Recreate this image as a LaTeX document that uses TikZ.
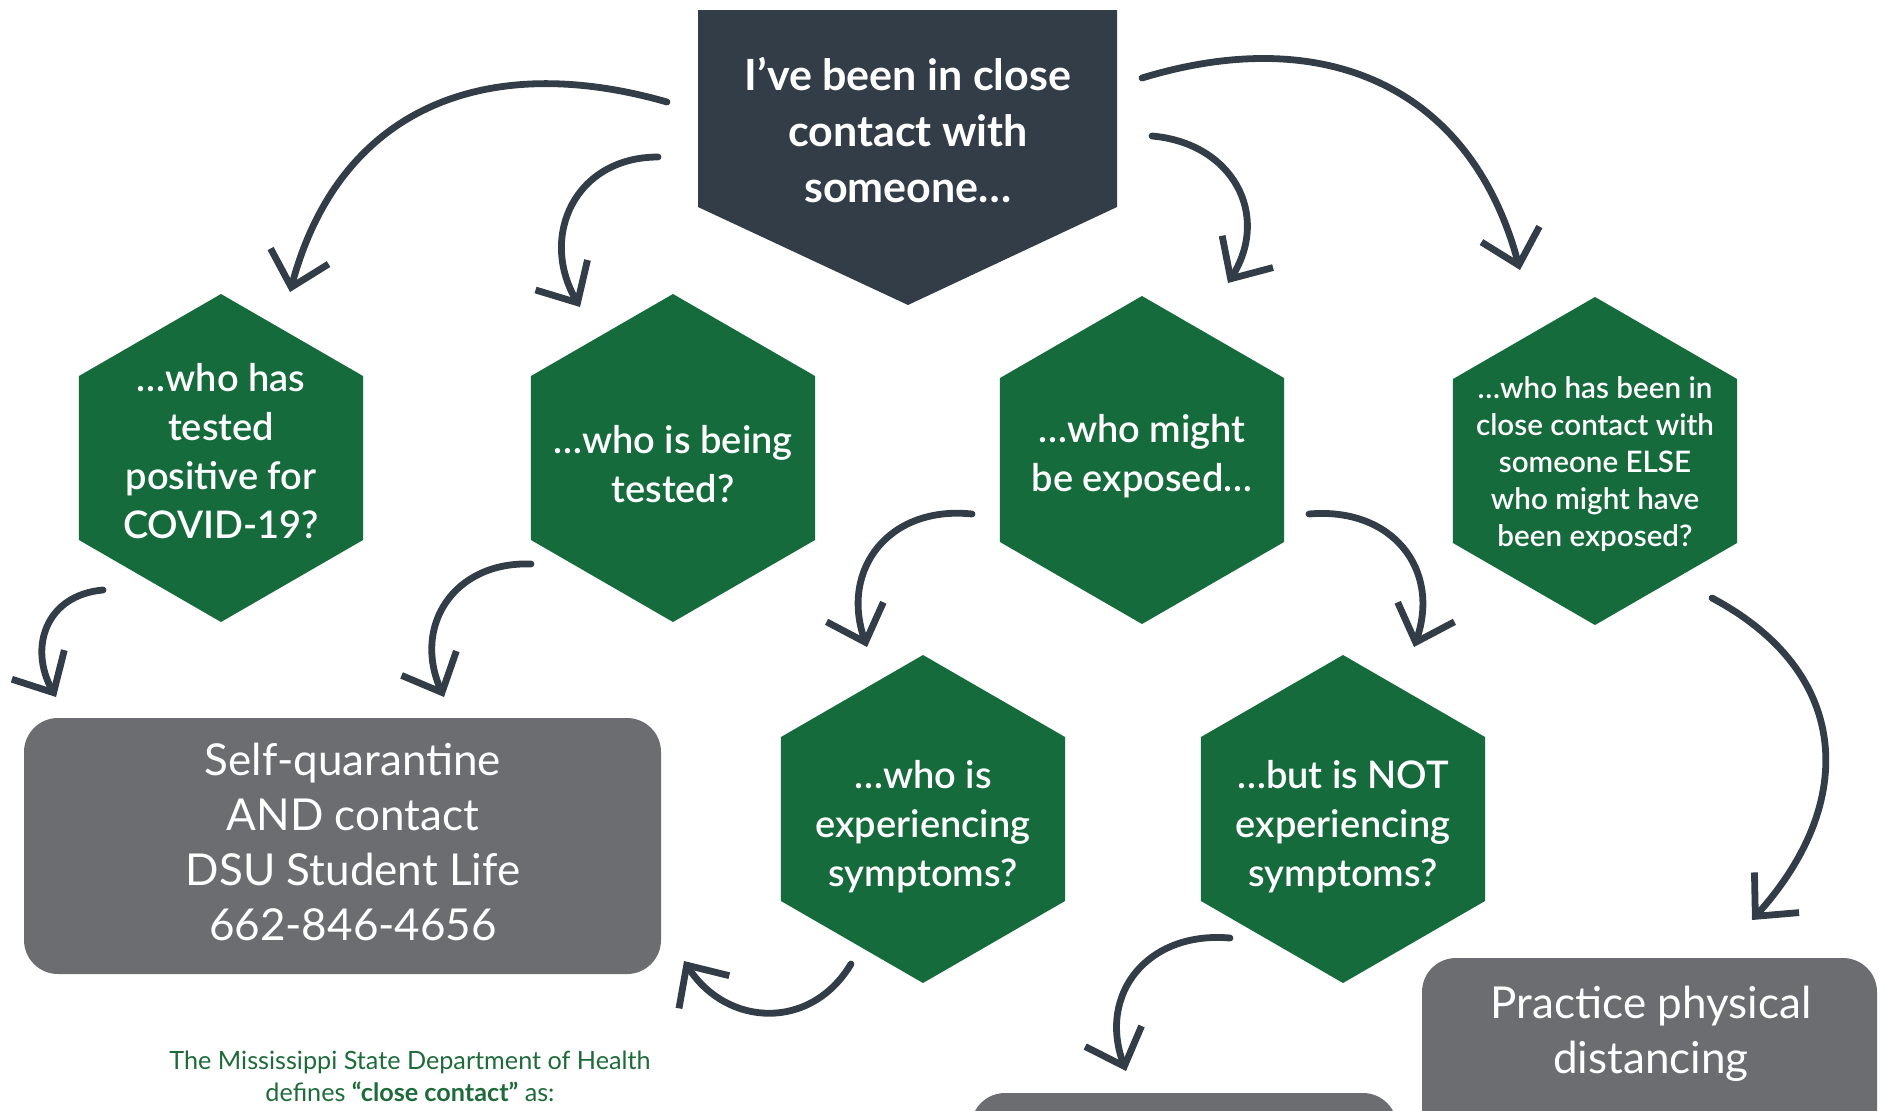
\documentclass[tikz,border=0pt]{standalone}
\usepackage{fontspec}
\setmainfont{Lato}
\newfontfamily\semifont{Lato Semibold}
\usetikzlibrary{arrows.meta, shapes.geometric}

\definecolor{slate}{HTML}{323D47}
\definecolor{pine}{HTML}{156B3B}
\definecolor{ash}{HTML}{6C6D71}
\definecolor{leaf}{HTML}{1E6B3A}

\tikzset{
  hexbox/.style={regular polygon, regular polygon sides=6, shape border rotate=30,
    minimum size=164pt, inner sep=0pt, outer sep=0pt, fill=pine},
  hextext/.style={text=white, align=center, inner sep=0pt,
    font=\semifont\fontsize{19}{24.5}\selectfont},
  smalltext/.style={hextext, font=\semifont\fontsize{14.8}{18.6}\selectfont},
  toptext/.style={text=white, align=center, inner sep=0pt,
    font=\bfseries\fontsize{21.5}{27.8}\selectfont},
  actbox/.style={fill=ash, rounded corners=17pt, text=white, align=center},
  acttext/.style={text=white, align=center, inner sep=0pt,
    font=\fontsize{22}{27.5}\selectfont},
  note/.style={text=leaf, align=center, inner sep=0pt,
    font=\fontsize{12.6}{16}\selectfont},
  flow/.style={draw=slate, line width=3.4pt, line cap=round,
    -{Straight Barb[length=16pt, width=30pt]}}
}

\begin{document}
\begin{tikzpicture}[x=0.5pt, y=-0.5pt]
\useasboundingbox (0,0) rectangle (1885,1110);
\clip (0,0) rectangle (1885,1110);

\fill[slate] (698,10) -- (1117,10) -- (1117,207) -- (908,305) -- (698,207) -- cycle;
\node[toptext] (contact) at (908,130) {I’ve been in close\\contact with\\someone…};

\node[hexbox] (positive) at (221,458) {};
\node[hexbox] (tested) at (673,458) {};
\node[hexbox] (exposed) at (1142,460) {};
\node[hexbox] (else) at (1595,461) {};
\node[hexbox] (symptoms) at (923,819) {};
\node[hexbox] (nosymptoms) at (1343,819) {};

\node[hextext] (positivetxt) at (221,451) {…who has\\tested\\positive for\\COVID-19?};
\node[hextext] (testedtxt) at (673,464) {…who is being\\tested?};
\node[hextext] (exposedtxt) at (1142,456) {…who might\\be exposed…};
\node[smalltext] (elsetxt) at (1595,464) {…who has been in\\close contact with\\someone ELSE\\who might have\\been exposed?};
\node[hextext] (symptomstxt) at (923,827) {…who is\\experiencing\\symptoms?};
\node[hextext] (nosymptomstxt) at (1343,827) {…but is NOT\\experiencing\\symptoms?};

\node[actbox, minimum width=318.5pt, minimum height=128pt, inner sep=0pt] (quarantine) at (342.5,846) {};
\node[acttext] (quarantinetxt) at (353,842) {Self-quarantine\\AND contact\\DSU Student Life\\662-846-4656};

\fill[ash, rounded corners=17pt] (1422,958) rectangle (1877,1250);
\node[acttext] (distancing) at (1651,1034) {Practice physical\\distancing};
\fill[ash, rounded corners=17pt] (971,1093) rectangle (1397,1250);

\node[note] (msdh) at (410,1076) {The Mississippi State Department of Health\\defines \textbf{“close contact”} as:};

\coordinate (p1) at (667,102);  \coordinate (q1) at (290,292);
\coordinate (p2) at (658,157);  \coordinate (q2) at (580,307);
\coordinate (p3) at (1152,136); \coordinate (q3) at (1228,283);
\coordinate (p4) at (1142,78);  \coordinate (q4) at (1520,270);
\coordinate (p5) at (972,514);  \coordinate (q5) at (867,647);
\coordinate (p6) at (1309,514); \coordinate (q6) at (1414,647);
\coordinate (p7) at (851,964);  \coordinate (q7) at (684,961);
\coordinate (p8) at (1230,938); \coordinate (q8) at (1126,1071);
\coordinate (p9) at (1712,598); \coordinate (q9) at (1752,920);
\coordinate (p10) at (103,590); \coordinate (q10) at (56,697);
\coordinate (p11) at (531,564); \coordinate (q11) at (444,697);

\draw[flow] (p1) to[out=164, in=75, looseness=1.15] (q1);
\draw[flow] (p2) to[out=180, in=120, looseness=1.25] (q2);
\draw[flow] (p3) to[out=-5, in=58, looseness=1.25] (q3);
\draw[flow] (p4) to[out=17, in=105, looseness=1.15] (q4);
\draw[flow] (p5) to[out=174, in=109, looseness=1.25] (q5);
\draw[flow] (p6) to[out=5, in=71, looseness=1.25] (q6);
\draw[flow] (p7) to[out=239, in=-57, looseness=1.2] (q7);
\draw[flow] (p8) to[out=175, in=110, looseness=1.25] (q8);
\draw[flow] (p9) to[out=-28, in=48, looseness=1.25] (q9);
\draw[flow] (p10) to[out=185, in=119, looseness=1.25] (q10);
\draw[flow] (p11) to[out=178, in=114, looseness=1.25] (q11);
\end{tikzpicture}
\end{document}
